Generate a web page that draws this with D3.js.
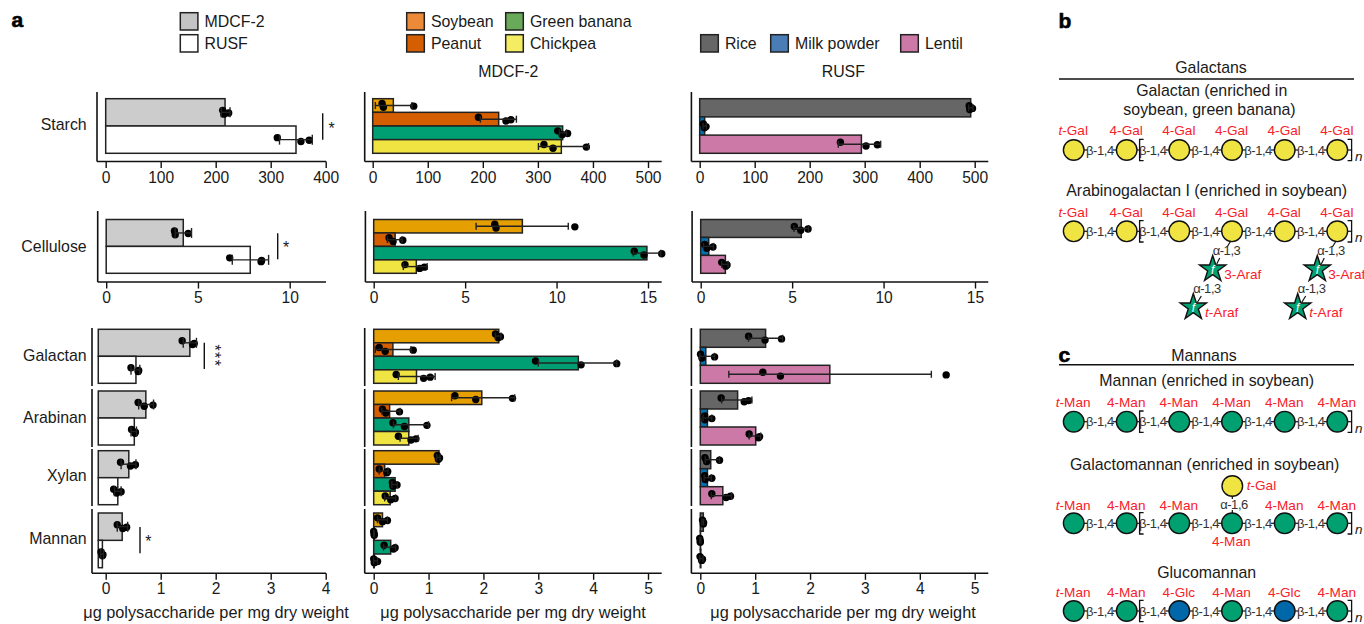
<!DOCTYPE html>
<html>
<head>
<meta charset="utf-8">
<script src="https://cdn.jsdelivr.net/npm/d3@7"></script>
<style>
html,body{margin:0;padding:0;background:#fff;overflow:hidden}
svg{display:block}
text{font-family:"Liberation Sans",Arial,sans-serif;fill:#1a1a1a}
</style>
</head>
<body>
<svg id="chart" width="1364" height="624"></svg>
<script>
// ---------- data ----------
const categories = ["Starch","Cellulose","Galactan","Arabinan","Xylan","Mannan"];
const dietNames = ["MDCF-2","RUSF"];
const mdcfFoods = ["Soybean","Peanut","Green banana","Chickpea"];
const rusfFoods = ["Rice","Milk powder","Lentil"];
const axisTicksTop = [0,100,200,300,400,500];
const axisTicksDiet = [0,100,200,300,400];
const axisTicksMid = [0,5,10,15];
const axisTicksDietMid = [0,5,10];
const axisTicksLow = [0,1,2,3,4,5];
const axisTicksDietLow = [0,1,2,3,4];
const xLabel = "μg polysaccharide per mg dry weight";

const dietMeans = [[217,346],[4.2,7.85],[1.53,0.55],[0.73,0.52],[0.42,0.22],[0.30,-0.06]];
const dietPoints = [
 [[212.7,215,223.6],[312,355,370]],
 [[3.72,3.76,4.47],[6.73,8.44,8.47]],
 [[1.39,1.58,1.61],[0.46,0.59,0.60]],
 [[0.59,0.70,0.86],[0.47,0.53,0.54]],
 [[0.27,0.45,0.54],[0.145,0.20,0.28]],
 [[0.21,0.31,0.38],[-0.085,-0.06,-0.05]]];
const dietErr = [
 [[210,226],[316,375.6]],
 [[3.76,4.65],[6.87,8.85]],
 [[1.41,1.65],[0.46,0.62]],
 [[0.60,0.87],[0.46,0.56]],
 [[0.28,0.55],[0.16,0.28]],
 [[0.21,0.40],[-0.09,-0.04]]];
const dietStars = ["*","*","***","","","*"];

const mdcfMeans = [[37.5,228.8,345,342.6],[8.13,1.17,14.94,2.33],[2.28,0.35,3.73,0.78],[1.97,0.29,0.64,0.64],[1.19,0.20,0.39,0.30],[0.16,0.01,0.31,0.01]];
const mdcfPoints = [
 [[17,19.4,74.5],[192,242,251],[336,344,354],[311,327.5,388]],
 [[6.62,6.69,11.0],[0.84,1.06,1.59],[14.25,14.78,15.75],[1.71,2.51,2.77]],
 [[2.22,2.27,2.31],[0.10,0.21,0.72],[2.95,3.78,4.43],[0.41,0.91,1.03]],
 [[1.48,1.86,2.53],[0.16,0.22,0.47],[0.35,0.56,0.97],[0.45,0.68,0.77]],
 [[1.16,1.18,1.20],[0.10,0.24,0.255],[0.34,0.35,0.425],[0.21,0.31,0.39]],
 [[0.07,0.16,0.25],[0,0.01,0.01],[0.19,0.36,0.39],[0,0.01,0.07]]];
const mdcfErr = [
 [[4.8,71.4],[195.5,261],[339,352],[301,392]],
 [[5.6,10.64],[0.75,1.55],[14.2,15.7],[1.62,2.92]],
 [[2.22,2.32],[0.03,0.68],[3.0,4.43],[0.45,1.12]],
 [[1.42,2.57],[0.15,0.48],[0.36,1.0],[0.48,0.81]],
 [[1.15,1.21],[0.10,0.26],[0.33,0.43],[0.20,0.40]],
 [[0.07,0.25],[0,0.01],[0.18,0.40],[0,0.07]]];

const rusfMeans = [[492.7,9,294],[5.5,0.44,1.35],[1.19,0.10,2.36],[0.68,0.13,1.01],[0.19,0.13,0.41],[0.055,0.005,0.01]];
const rusfPoints = [
 [[490,491,496],[6.7,8.5,11.5],[255.8,302.4,323]],
 [[5.12,5.47,5.87],[0.22,0.33,0.67],[1.15,1.37,1.44]],
 [[0.88,1.18,1.48],[0.005,0.03,0.26],[1.14,1.46,4.48]],
 [[0.38,0.80,0.88],[0.08,0.085,0.21],[0.89,1.06,1.08]],
 [[0.085,0.115,0.35],[0.08,0.09,0.21],[0.21,0.47,0.55]],
 [[0.04,0.055,0.06],[-0.01,0,0],[-0.005,0.025,0.04]]];
const rusfErr = [
 [[489,497],[6,12],[252,329]],
 [[5.1,5.9],[0.15,0.7],[1.15,1.5]],
 [[0.88,1.5],[-0.01,0.26],[0.52,4.21]],
 [[0.39,0.94],[0.05,0.21],[0.89,1.10]],
 [[0.09,0.35],[0.07,0.20],[0.20,0.57]],
 [[0.03,0.06],[-0.01,0.01],[-0.01,0.05]]];

const galactanLabels = ["t-Gal","4-Gal","4-Gal","4-Gal","4-Gal","4-Gal"];
const mannanLabels = ["t-Man","4-Man","4-Man","4-Man","4-Man","4-Man"];
const glucomannanLabels = ["t-Man","4-Man","4-Glc","4-Man","4-Glc","4-Man"];

// ---------- styles ----------
const FONT = 15.9, XLABEL = 16.3, TICK = 15.6, SUGAR = 13.6, BOND = 13;
const dietColor = {"MDCF-2":"#cccccc","RUSF":"#ffffff"};
const barColor = {"Soybean":"#E69F00","Peanut":"#D55E00","Green banana":"#009E73","Chickpea":"#F0E442",
                  "Rice":"#666666","Milk powder":"#0072B2","Lentil":"#CC79A7"};
const legendColor = {"MDCF-2":"#c4c4c4","RUSF":"#ffffff","Soybean":"#EC8A3A","Peanut":"#D55E00","Green banana":"#69A95A",
                  "Chickpea":"#F4EC62","Rice":"#666666","Milk powder":"#4A7DB6","Lentil":"#CC79A7"};
const GAL="#F0E442", MAN="#00A070", GLC="#0068A8", RED="#F8202A";
const jitter = [-2,1.8,0.6];

const svg = d3.select("#chart");

function label(x,y,t,opts={}){
  return svg.append("text").attr("x",x).attr("y",y).attr("text-anchor",opts.anchor||"start")
    .attr("font-size",opts.size||FONT).style("fill",opts.fill||"#1a1a1a")
    .attr("font-style",opts.italic?"italic":null).attr("font-weight",opts.bold?"bold":null)
    .style("letter-spacing",opts.ls||null).text(t);
}
function seg(x1,y1,x2,y2,w=1.4,c="#111"){
  return svg.append("line").attr("x1",x1).attr("y1",y1).attr("x2",x2).attr("y2",y2)
    .attr("stroke",c).attr("stroke-width",w);
}

// ---------- rows ----------
const rows = [
 {top:98.7,bottom:153.3,spineTop:92,spineBottom:161.5,panel:"top"},
 {top:219.5,bottom:273.3,spineTop:211,spineBottom:282,panel:"mid"},
 {top:329.3,bottom:383.3,spineTop:328,spineBottom:386,panel:"low"},
 {top:391,bottom:445,spineTop:389,spineBottom:447,panel:"low"},
 {top:450.7,bottom:504.7,spineTop:449,spineBottom:506,panel:"low"},
 {top:513,bottom:567.7,spineTop:509,spineBottom:573.3,panel:"low"}];

function drawAxis(scale,ticks,y,left,right){
  const g = svg.append("g").attr("transform",`translate(0,${y})`)
    .call(d3.axisBottom(scale).tickValues(ticks).tickFormat(d3.format("d")).tickSize(6.5).tickPadding(3.5).tickSizeOuter(0));
  g.select(".domain").remove();
  g.selectAll(".tick line").attr("stroke","#111").attr("stroke-width",1.4);
  g.selectAll(".tick text").attr("font-size",TICK).attr("font-family",'"Liberation Sans",Arial,sans-serif').style("fill","#1a1a1a");
  seg(left,y,right,y,1.6);
}

function drawColumn(c){
  const scales = {
    top: d3.scaleLinear().domain([0,c.tTop[c.tTop.length-1]]).range(c.rTop),
    mid: d3.scaleLinear().domain([0,c.tMid[c.tMid.length-1]]).range(c.rMid),
    low: d3.scaleLinear().domain([0,c.tLow[c.tLow.length-1]]).range(c.rLow)};
  drawAxis(scales.top,c.tTop,161.5,c.spineX,c.right);
  drawAxis(scales.mid,c.tMid,282,c.spineX+0.7,c.right);
  drawAxis(scales.low,c.tLow,573.3,c.lowSpineX||c.spineX,c.right);
  rows.forEach((r,i)=>{
    const x = scales[r.panel];
    const sx = r.panel==="low" ? (c.lowSpineX||c.spineX) : c.spineX + (r.panel==="mid"?0.7:0);
    seg(sx,r.spineTop,sx,r.spineBottom,1.6);
    const y = d3.scaleBand().domain(c.names).range([r.top,r.bottom]);
    const floor = r.panel==="low" && c.floor!==undefined ? x(c.floor) : x(0);
    const g = svg.append("g");
    g.selectAll("rect").data(c.names).join("rect")
      .attr("x",floor).attr("y",n=>y(n))
      .attr("width",(n,k)=>Math.max(0,x(c.means[i][k])-floor))
      .attr("height",y.bandwidth())
      .attr("fill",n=>c.colors[n]).attr("stroke","#222").attr("stroke-width",1.5);
    c.names.forEach((n,k)=>{
      const cy = y(n)+y.bandwidth()/2;
      const [lo,hi] = c.err[i][k];
      const cap = c.cap;
      seg(x(lo),cy,x(hi),cy,1.4,"#222");
      seg(x(lo),cy-cap,x(lo),cy+cap,1.4,"#222");
      seg(x(hi),cy-cap,x(hi),cy+cap,1.4,"#222");
      g.selectAll(null).data(c.points[i][k]).join("circle")
        .attr("cx",d=>x(d)).attr("cy",(d,j)=>cy+jitter[j])
        .attr("r",3.7).attr("fill","#000");
    });
  });
}

// column 1: diet totals
drawColumn({names:dietNames,colors:dietColor,means:dietMeans,points:dietPoints,err:dietErr,cap:5,
  tTop:axisTicksDiet,tMid:axisTicksDietMid,tLow:axisTicksDietLow,
  rTop:[105.7,325.7],rMid:[106.2,289.7],rLow:[105.7,325.7],spineX:97,lowSpineX:92,right:326,floor:-0.135});
// column 2: MDCF-2 ingredients
drawColumn({names:mdcfFoods,colors:barColor,means:mdcfMeans,points:mdcfPoints,err:mdcfErr,cap:3.5,
  tTop:axisTicksTop,tMid:axisTicksMid,tLow:axisTicksLow,
  rTop:[372.7,648],rMid:[373.7,648],rLow:[373.7,648],spineX:364.7,right:661.7});
// column 3: RUSF ingredients
drawColumn({names:rusfFoods,colors:barColor,means:rusfMeans,points:rusfPoints,err:rusfErr,cap:3.5,
  tTop:axisTicksTop,tMid:axisTicksMid,tLow:axisTicksLow,
  rTop:[699.7,974.7],rMid:[700.7,975],rLow:[700.3,974.7],spineX:691.4,right:988.3});

// row labels
const rowLabelY = [129.7,252,360.7,423,481,544];
categories.forEach((c,i)=>label(86.7,rowLabelY[i],c,{anchor:"end"}));

// x labels and column titles
[[216,xLabel],[513,xLabel],[843,xLabel]].forEach(([x,t])=>label(x,618.3,t,{anchor:"middle",size:XLABEL}));
label(508.3,77,dietNames[0],{anchor:"middle"});
label(843.3,77,dietNames[1],{anchor:"middle"});

// significance marks
const sig = [[322.7,113.3,139.7,331.7],[277.7,233.3,259.3,286],[204.3,342.7,369,214],null,null,[140,527,553.3,148.3]];
sig.forEach((s,i)=>{
  if(!s) return;
  seg(s[0],s[1],s[0],s[2],1.4);
  const mid=(s[1]+s[2])/2;
  if(dietStars[i].length>1){
    svg.append("text").attr("transform",`translate(${s[3]-5},${mid}) rotate(90)`)
      .attr("text-anchor","middle").attr("font-size",FONT).style("letter-spacing","1.4px").text(dietStars[i]);
  } else {
    label(s[3],mid+7,dietStars[i],{anchor:"middle",size:FONT});
  }
});

// legends
function legendItem(x,y,name){
  svg.append("rect").attr("x",x).attr("y",y).attr("width",17.6).attr("height",17.3)
    .attr("fill",legendColor[name]).attr("stroke","#222").attr("stroke-width",1.5);
  label(x+24.2,y+14.3,name);
}
legendItem(180.3,12.7,dietNames[0]);
legendItem(180.3,34.7,dietNames[1]);
legendItem(406.7,12.7,mdcfFoods[0]);
legendItem(406.7,34.7,mdcfFoods[1]);
legendItem(505.7,12.7,mdcfFoods[2]);
legendItem(505.7,34.7,mdcfFoods[3]);
legendItem(700.7,34.7,rusfFoods[0]);
legendItem(770.7,34.7,rusfFoods[1]);
legendItem(900.7,34.7,rusfFoods[2]);

// panel letters
function panelLetter(x,y,t){
  label(x,y,t,{bold:true,size:21}).style("fill","#000").attr("stroke","#000").attr("stroke-width",0.6);
}
panelLetter(11.5,26.7,"a");
panelLetter(1058.5,28,"b");
panelLetter(1058.5,361.5,"c");

// ---------- glycan diagrams ----------
const CX = [1073.7,1126.7,1179.3,1232,1284.7,1337.3];
const R = 10.3;
function sugarLabel(x,y,t,anchor="middle"){
  const txt = svg.append("text").attr("x",x).attr("y",y).attr("text-anchor",anchor)
    .attr("font-size",SUGAR).style("fill",RED);
  if(t.startsWith("t-")){
    txt.append("tspan").attr("font-style","italic").style("fill",RED).text("t");
    txt.append("tspan").style("fill",RED).text(t.slice(1));
  } else txt.text(t);
}
function chain(cy,labelY,labels,colors){
  CX.slice(0,-1).forEach((x,i)=>{
    const x2=CX[i+1];
    seg(x+R,cy,x+R+3.5,cy,1.2);
    seg(x2-R-3.5,cy,x2-R,cy,1.2);
    label((x+x2)/2-0.3,cy+4.7,"β-1,4",{anchor:"middle",size:BOND,ls:"-0.45px",fill:"#333"});
  });
  seg(CX[5]+R,cy,CX[5]+R+4.5,cy,1.2);
  const b1=1139.6,b2=1351.6;
  svg.append("path").attr("d",`M${b1+4},${cy-10.7}H${b1}V${cy+10.7}H${b1+4}`).attr("fill","none").attr("stroke","#111").attr("stroke-width",1.3);
  svg.append("path").attr("d",`M${b2-4},${cy-10.7}H${b2}V${cy+10.7}H${b2-4}`).attr("fill","none").attr("stroke","#111").attr("stroke-width",1.3);
  label(1355,cy+11,"n",{italic:true,size:13.5});
  svg.append("g").selectAll("circle").data(CX).join("circle")
    .attr("cx",d=>d).attr("cy",cy).attr("r",R)
    .attr("fill",(d,i)=>colors[i]).attr("stroke","#111").attr("stroke-width",1.4);
  if(labels) labels.forEach((t,i)=>{ if(t) sugarLabel(CX[i]-0.5,labelY,t); });
}
function star(x,y){
  svg.append("path").attr("transform",`translate(${x},${y})`)
    .attr("d",d3.symbol(d3.symbolStar).size(215)())
    .attr("fill",MAN).attr("stroke","#111").attr("stroke-width",1.4);
  label(x,y+4.5,"f",{anchor:"middle",size:12,italic:true,fill:"#fff"});
}
const sixGal = Array(6).fill(GAL), sixMan = Array(6).fill(MAN);

// b
label(1211,73,"Galactans",{anchor:"middle"});
seg(1059,79,1354,79,1.4);
label(1211.7,95.7,"Galactan (enriched in",{anchor:"middle"});
label(1209.5,115,"soybean, green banana)",{anchor:"middle"});
chain(150,135,galactanLabels,sixGal);

label(1206.7,196,"Arabinogalactan I (enriched in soybean)",{anchor:"middle"});
chain(231.3,216.7,galactanLabels,sixGal);
[[1232,1212.7,1193.3,1226.5,1207,1224.3,1205],[1337.3,1317.3,1297.7,1331,1311.7,1328.3,1309.3]].forEach(a=>{
  const [cxTop,s1,s2,l1,l2,t1,t2]=a;
  seg(cxTop-1.5,241.5,cxTop-5,247,1.2);
  seg(s1+7,258,s1+4,264,1.2);
  seg(s2+8,296,s2+4,302.5,1.2);
  star(s1,269.3); star(s2,307.3);
  label(l1,255,"α-1,3",{anchor:"middle",size:BOND,ls:"-0.45px",fill:"#333"});
  label(l2,292.5,"α-1,3",{anchor:"middle",size:BOND,ls:"-0.45px",fill:"#333"});
  sugarLabel(t1,278.7,"3-Araf","start");
  sugarLabel(t2,316.7,"t-Araf","start");
});

// c
label(1204,360.7,"Mannans",{anchor:"middle"});
seg(1059,364.7,1354,364.7,1.4);
label(1206.7,385.7,"Mannan (enriched in soybean)",{anchor:"middle"});
chain(421.7,406.7,mannanLabels,sixMan);

label(1204.7,470,"Galactomannan (enriched in soybean)",{anchor:"middle"});
seg(1232.3,496,1232.3,499,1.2);
seg(1232.3,510,1232.3,513,1.2);
chain(523.3,510,[mannanLabels[0],mannanLabels[1],mannanLabels[2],null,mannanLabels[4],mannanLabels[5]],sixMan);
svg.append("circle").attr("cx",1232.3).attr("cy",486).attr("r",R).attr("fill",GAL).attr("stroke","#111").attr("stroke-width",1.4);
sugarLabel(1246.7,490,"t-Gal","start");
label(1234,509,"α-1,6",{anchor:"middle",size:BOND,ls:"-0.45px",fill:"#333"});
sugarLabel(1231.3,546,"4-Man");

label(1206.7,578.3,"Glucomannan",{anchor:"middle"});
chain(611,596.7,glucomannanLabels,[MAN,MAN,GLC,MAN,GLC,MAN]);
</script>
</body>
</html>
